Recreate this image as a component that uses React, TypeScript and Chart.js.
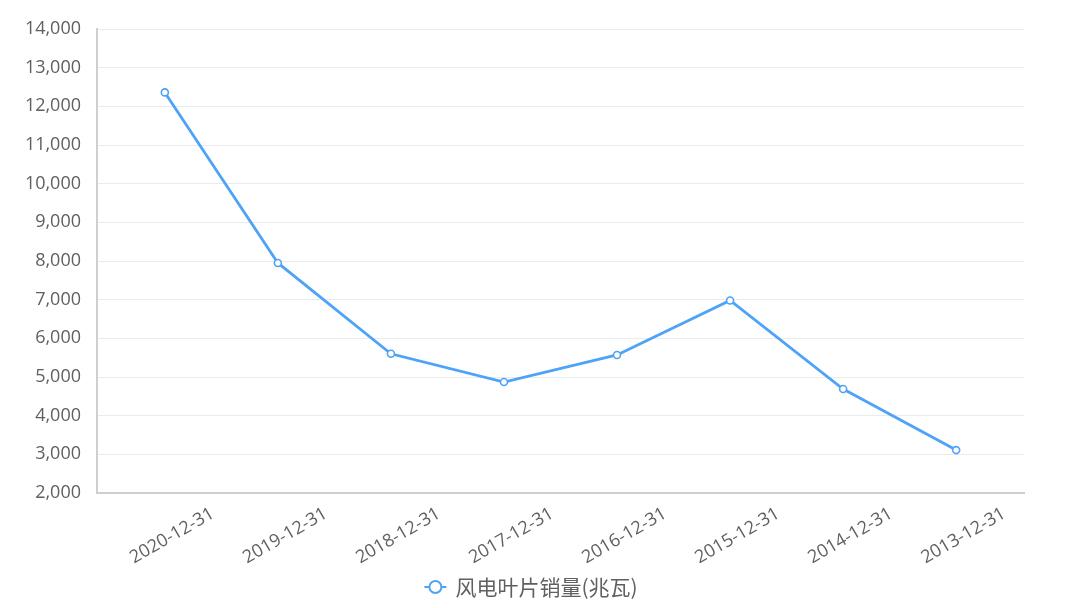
import React, { useEffect, useRef } from "react";
import { Chart, registerables } from "chart.js";

Chart.register(...registerables);

const categories = [
  "2020-12-31",
  "2019-12-31",
  "2018-12-31",
  "2017-12-31",
  "2016-12-31",
  "2015-12-31",
  "2014-12-31",
  "2013-12-31",
];
const salesValues = [12360, 7950, 5600, 4870, 5570, 6980, 4690, 3110];
const seriesName = "风电叶片销量(兆瓦)";
const yMin = 2000;
const yMax = 14000;
const yStep = 1000;

const FONT = "'Open Sans', 'Noto Sans CJK SC', sans-serif";
const LINE_COLOR = "#4ea3f7";
const TEXT_COLOR = "#606060";

const legendPlugin = {
  id: "customLegend",
  afterDraw(chart: any) {
    const ctx = chart.ctx;
    const ds = chart.data.datasets[0];
    ctx.save();
    ctx.font = `21px 'Noto Sans CJK SC', ${FONT}`;
    const label = ds.label as string;
    const tw = ctx.measureText(label).width;
    const iconW = 22;
    const gap = 9;
    const total = iconW + gap + tw;
    const startX = chart.width / 2 - 4 - total / 2;
    const cy = chart.height - 21;
    ctx.strokeStyle = LINE_COLOR;
    ctx.lineWidth = 2;
    ctx.beginPath();
    ctx.moveTo(startX, cy);
    ctx.lineTo(startX + iconW, cy);
    ctx.stroke();
    ctx.beginPath();
    ctx.arc(startX + iconW / 2, cy, 6, 0, Math.PI * 2);
    ctx.fillStyle = "#ffffff";
    ctx.fill();
    ctx.stroke();
    ctx.fillStyle = TEXT_COLOR;
    ctx.textBaseline = "middle";
    ctx.textAlign = "left";
    ctx.fillText(label, startX + iconW + gap, cy);
    ctx.restore();
  },
};

export default function App() {
  const canvasRef = useRef<HTMLCanvasElement | null>(null);

  useEffect(() => {
    if (!canvasRef.current) return;
    const points = salesValues.map((v, i) => ({ x: i, y: v }));
    const chart = new Chart(canvasRef.current, {
      type: "line",
      data: {
        datasets: [
          {
            label: seriesName,
            data: points,
            borderColor: LINE_COLOR,
            borderWidth: 2.8,
            backgroundColor: "#ffffff",
            pointBackgroundColor: "#ffffff",
            pointBorderColor: LINE_COLOR,
            pointBorderWidth: 1.6,
            pointRadius: 3.5,
            tension: 0,
            fill: false,
          },
        ],
      },
      options: {
        animation: false,
        responsive: false,
        maintainAspectRatio: false,
        layout: { padding: { top: 29, right: 46, bottom: 0, left: 0 } },
        plugins: {
          legend: { display: false },
          tooltip: { enabled: false },
        },
        scales: {
          x: {
            type: "linear",
            min: -0.6,
            max: categories.length - 1 + 0.6,
            grid: { display: false, drawTicks: false },
            border: { display: true, color: "#cfcfcf", width: 2 },
            afterFit(scale: any) {
              scale.height = 115;
            },
            ticks: {
              stepSize: 1,
              includeBounds: false,
              autoSkip: false,
              minRotation: 30,
              maxRotation: 30,
              padding: 10,
              labelOffset: 48,
              color: TEXT_COLOR,
              font: { family: FONT, size: 18 },
              callback(value: any) {
                const i = Number(value);
                if (Number.isInteger(i) && i >= 0 && i < categories.length) return categories[i];
                return "";
              },
            },
          },
          y: {
            type: "linear",
            min: yMin,
            max: yMax,
            grid: { color: "#ebebeb", lineWidth: 1, drawTicks: false },
            border: { display: true, color: "#cfcfcf", width: 2 },
            afterFit(scale: any) {
              scale.width = 97;
            },
            ticks: {
              stepSize: yStep,
              padding: 16,
              color: TEXT_COLOR,
              font: { family: FONT, size: 18 },
              callback(value: any) {
                return Number(value).toLocaleString("en-US");
              },
            },
          },
        },
      },
      plugins: [legendPlugin],
    });
    return () => chart.destroy();
  }, []);

  return (
    <div style={{ position: "fixed", left: 0, top: 0, width: 1070, height: 608, background: "#fff" }}>
      <canvas ref={canvasRef} width={1070} height={608} style={{ width: 1070, height: 608 }} />
    </div>
  );
}
